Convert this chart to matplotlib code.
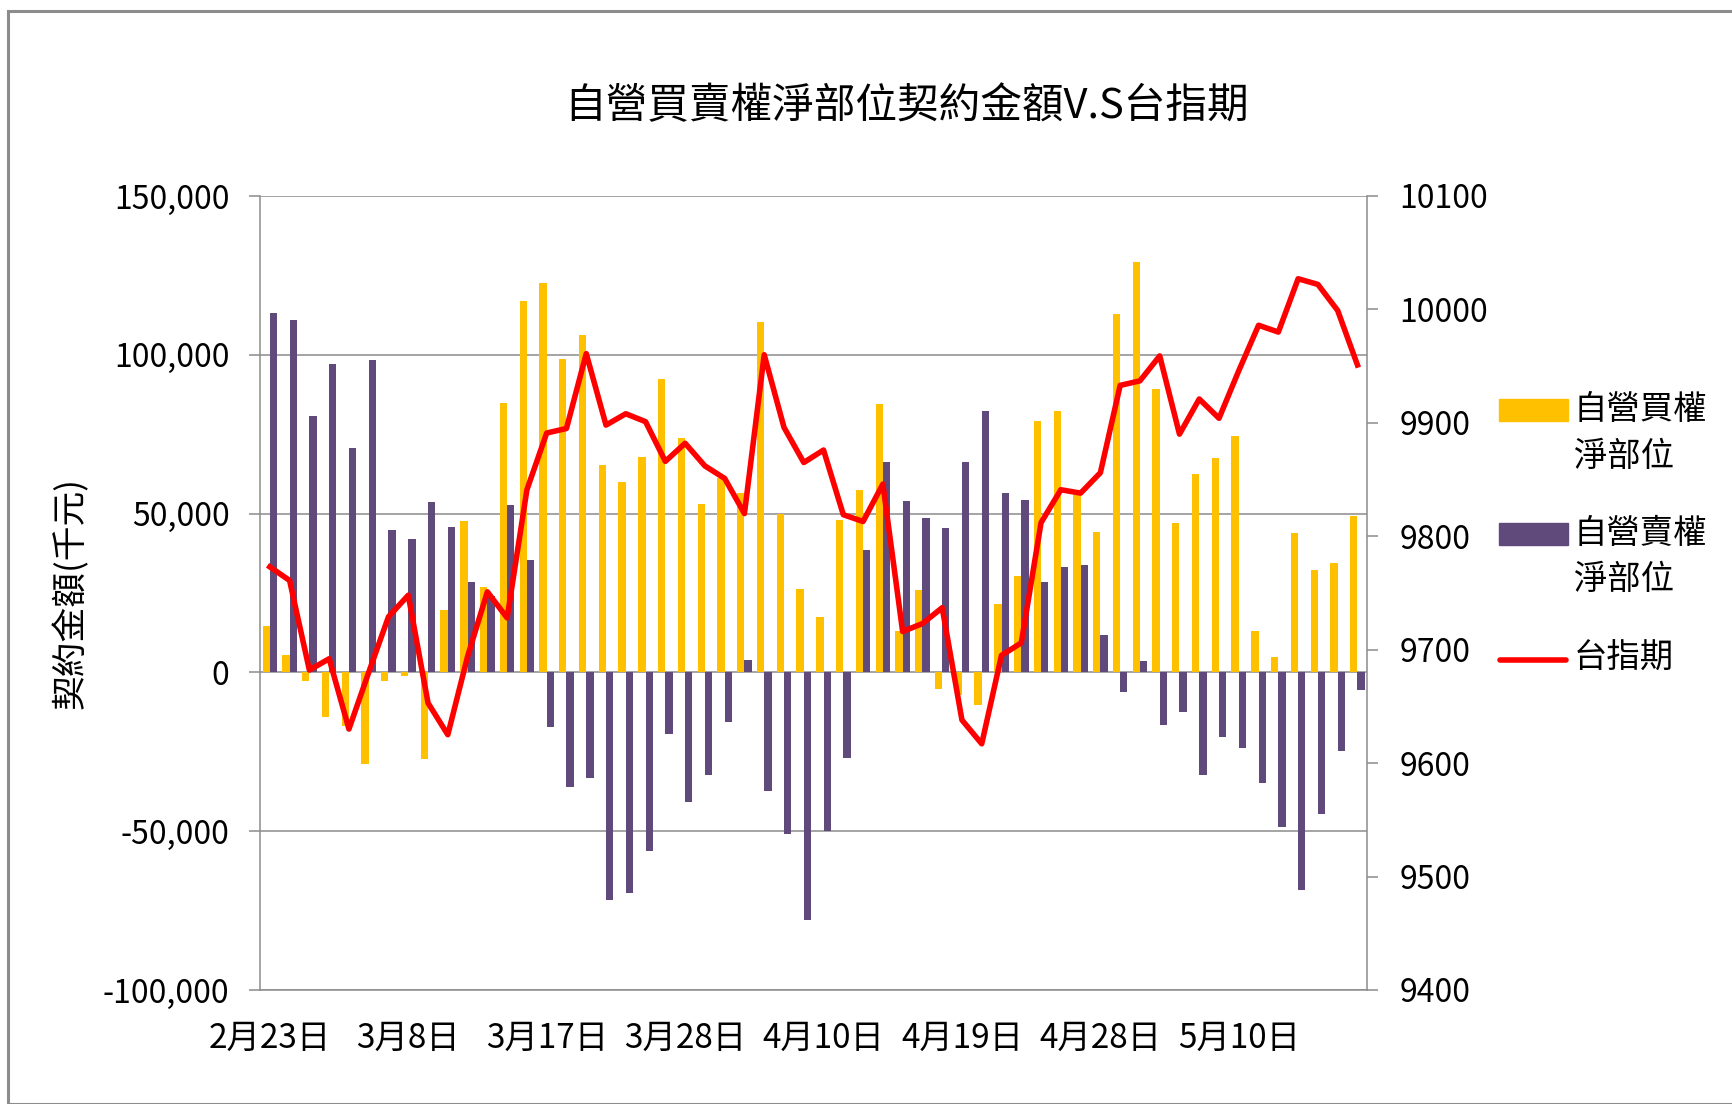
import numpy as np
import matplotlib
matplotlib.use('Agg')
import matplotlib.pyplot as plt
from matplotlib.ticker import FuncFormatter, MultipleLocator
from matplotlib.patches import Rectangle
from matplotlib.lines import Line2D

plt.rcParams['font.family'] = ['Noto Sans CJK TC', 'DejaVu Sans']

# 自營買權淨部位 (千元)
buy = [14.7, 5.6, -2.7, -14.0, -17.0, -28.8, -2.8, -1.0, -27.3, 19.7,
       47.6, 27.0, 84.8, 116.9, 122.5, 98.8, 106.3, 65.3, 60.0, 67.9,
       92.5, 73.9, 53.1, 61.1, 56.6, 110.2, 50.0, 26.3, 17.4, 47.9,
       57.3, 84.6, 13.0, 25.9, -5.1, -7.0, -10.3, 21.5, 30.4, 79.2,
       82.4, 56.0, 44.2, 112.8, 129.3, 89.2, 47.1, 62.3, 67.4, 74.4,
       13.0, 4.9, 44.0, 32.2, 34.3, 49.3]
# 自營賣權淨部位 (千元)
sell = [113.3, 111.1, 80.7, 97.2, 70.6, 98.4, 44.7, 42.0, 53.7, 45.9,
        28.6, 24.0, 52.7, 35.3, -17.2, -36.0, -33.3, -71.7, -69.6, -56.3,
        -19.4, -40.8, -32.2, -15.7, 3.8, -37.5, -50.8, -77.9, -50.0, -27.0,
        38.6, 66.2, 53.9, 48.6, 45.6, 66.2, 82.4, 56.6, 54.4, 28.3,
        33.3, 33.8, 11.9, -6.3, 3.6, -16.5, -12.5, -32.2, -20.5, -23.7,
        -34.8, -48.8, -68.4, -44.5, -24.7, -5.6]
# 台指期
taiex = [9773, 9761, 9682, 9692, 9630, 9680, 9729, 9748, 9653, 9625,
         9694, 9751, 9728, 9841, 9891, 9895, 9961, 9898, 9908, 9901,
         9866, 9882, 9862, 9851, 9820, 9960, 9896, 9865, 9876, 9819,
         9813, 9846, 9716, 9723, 9737, 9638, 9617, 9695, 9706, 9812,
         9841, 9838, 9856, 9933, 9937, 9959, 9890, 9921, 9904, 9946,
         9986, 9980, 10027, 10022, 9999, 9951]

tick_idx = [0, 7, 14, 21, 28, 35, 42, 49]
tick_labels = ['2月23日', '3月8日', '3月17日', '3月28日',
               '4月10日', '4月19日', '4月28日', '5月10日']

buy_c, sell_c, line_c = '#FFC000', '#604A7B', '#FF0000'
grid_c = '#8c8c8c'

buy = np.array(buy) * 1000
sell = np.array(sell) * 1000
x = np.arange(len(buy))

W, H = 1733, 1104
fig = plt.figure(figsize=(W / 100, H / 100), dpi=100)
ax = fig.add_axes([0.150, 0.1033, 0.639, 0.7192])

w = 0.37
ax.bar(x - w / 2, buy, w, color=buy_c, zorder=2)
ax.bar(x + w / 2, sell, w, color=sell_c, zorder=2)

ax.set_xlim(-0.5, len(x) - 0.5)
ax.set_ylim(-100000, 150000)
ax.yaxis.set_major_locator(MultipleLocator(50000))
ax.yaxis.set_major_formatter(FuncFormatter(lambda v, p: '{:,.0f}'.format(v)))
ax.grid(axis='y', color=grid_c, linewidth=1.1, zorder=0)
ax.set_xticks(tick_idx)
ax.set_xticklabels(tick_labels)
ax.tick_params(axis='x', length=0, pad=22, labelsize=24)
ax.tick_params(axis='y', length=8, color=grid_c, width=1.1, pad=14, labelsize=23)
ax.set_ylabel('契約金額(千元)', fontsize=25, labelpad=10)
for s in ['top', 'right']:
    ax.spines[s].set_visible(False)
for s in ['left', 'bottom']:
    ax.spines[s].set_color(grid_c)
    ax.spines[s].set_linewidth(1.1)

ax2 = ax.twinx()
ax2.plot(x, taiex, color=line_c, linewidth=4.0, zorder=3)
ax2.set_ylim(9400, 10100)
ax2.yaxis.set_major_locator(MultipleLocator(100))
ax2.tick_params(axis='y', length=8, color=grid_c, width=1.1, pad=15, labelsize=23)
for s in ['top', 'left', 'bottom']:
    ax2.spines[s].set_visible(False)
ax2.spines['right'].set_color(grid_c)
ax2.spines['right'].set_linewidth(1.1)

fig.text(0.523, 0.903, '自營買賣權淨部位契約金額V.S台指期', ha='center', va='center', fontsize=30)

# legend drawn by hand so the key sits on the first text line
def fx(px):
    return px / W

def fy(py):
    return 1 - py / H

lg_fs = 24
fig.add_artist(Rectangle((fx(1499), fy(421)), fx(69), 22 / H, color=buy_c, transform=fig.transFigure))
fig.text(fx(1574), fy(410), '自營買權', va='center', fontsize=lg_fs)
fig.text(fx(1574), fy(456), '淨部位', va='center', fontsize=lg_fs)
fig.add_artist(Rectangle((fx(1499), fy(545)), fx(69), 22 / H, color=sell_c, transform=fig.transFigure))
fig.text(fx(1574), fy(534), '自營賣權', va='center', fontsize=lg_fs)
fig.text(fx(1574), fy(580), '淨部位', va='center', fontsize=lg_fs)
fig.add_artist(Line2D([fx(1500), fx(1566)], [fy(660), fy(660)], color=line_c, linewidth=4.0,
                      solid_capstyle='round', transform=fig.transFigure))
fig.text(fx(1574), fy(658), '台指期', va='center', fontsize=lg_fs)

# chart border
fig.add_artist(Rectangle((fx(8), 0.0), 2.0, 1 - 11 / H, transform=fig.transFigure,
                         fill=False, edgecolor=grid_c, linewidth=2.2))

fig.savefig('out.png', dpi=100)
